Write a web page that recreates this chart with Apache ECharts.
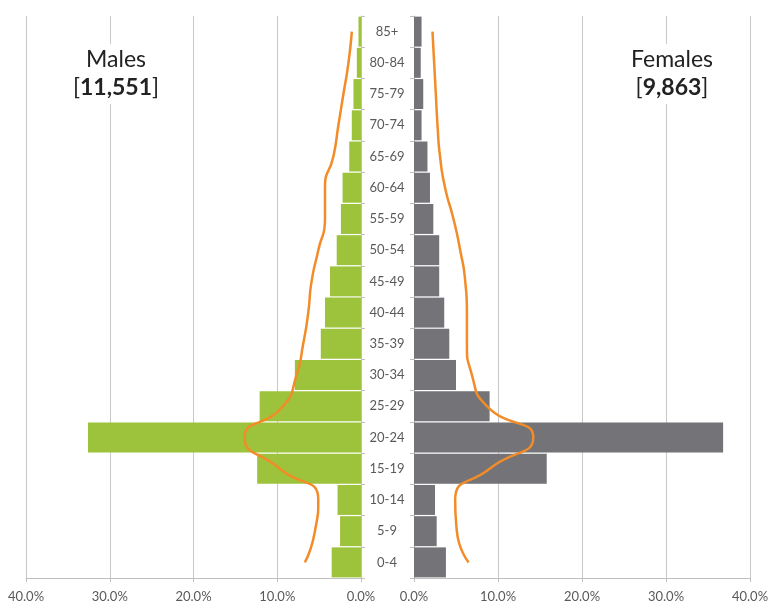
<!DOCTYPE html>
<html>
<head>
<meta charset="utf-8">
<script src="https://cdn.jsdelivr.net/npm/echarts@6/dist/echarts.min.js"></script>
<style>
  html, body { margin: 0; padding: 0; background: #fff; }
  #chart { width: 779px; height: 608px; }
</style>
</head>
<body>
<div id="chart"></div>
<script>
// age groups, bottom to top
const ages = ['0-4', '5-9', '10-14', '15-19', '20-24', '25-29', '30-34', '35-39', '40-44',
  '45-49', '50-54', '55-59', '60-64', '65-69', '70-74', '75-79', '80-84', '85+'];

// share of each sex (%), bars
const males = [3.5, 2.5, 2.8, 12.4, 32.6, 12.1, 7.9, 4.8, 4.3, 3.7, 2.9, 2.4, 2.2, 1.4, 1.1, 0.9, 0.5, 0.3];
const females = [3.8, 2.7, 2.5, 15.8, 36.8, 9.0, 5.0, 4.2, 3.6, 3.0, 3.0, 2.3, 1.9, 1.6, 0.9, 1.1, 0.8, 0.9];

// comparison curves (%)
const malesRef = [6.7, 5.5, 5.1, 9.7, 13.9, 9.3, 7.7, 6.9, 6.3, 5.9, 5.1, 4.3, 4.3, 3.3, 2.7, 2.1, 1.5, 1.1];
const femalesRef = [6.5, 5.1, 4.9, 9.0, 14.2, 8.7, 6.9, 6.3, 6.3, 6.1, 5.5, 4.7, 3.7, 3.1, 2.8, 2.6, 2.4, 2.2];

const totals = { males: '11,551', females: '9,863' };

const FONT = 'Lato';
const axisGray = '#bfbfbf';
const textGray = '#595959';

const chart = echarts.init(document.getElementById('chart'));

const valueAxis = (gridIndex, inverse) => ({
  type: 'value',
  gridIndex: gridIndex,
  inverse: inverse,
  min: 0,
  max: 40,
  interval: 10,
  axisLine: { show: true, lineStyle: { color: axisGray } },
  axisTick: { show: true, length: 4, lineStyle: { color: axisGray } },
  axisLabel: { color: textGray, fontFamily: FONT, fontSize: 13, margin: 12,
    formatter: v => v.toFixed(1) + '%' },
  splitLine: { show: true, lineStyle: { color: '#c8c8c8' } }
});

const titleStyle = {
  fontFamily: FONT, fontSize: 23, fontWeight: 'normal', color: '#222', lineHeight: 28,
  rich: { b: { fontFamily: FONT, fontSize: 23, fontWeight: 'bold', color: '#222', lineHeight: 28 } }
};

chart.setOption({
  animation: false,
  backgroundColor: '#fff',
  title: [
    { text: 'Males\n[{b|' + totals.males + '}]', left: 110, top: 44, textAlign: 'center',
      backgroundColor: '#fff', padding: [2, 6], textStyle: titleStyle },
    { text: 'Females\n[{b|' + totals.females + '}]', left: 666, top: 44, textAlign: 'center',
      backgroundColor: '#fff', padding: [2, 6], textStyle: titleStyle }
  ],
  grid: [
    { left: 26, right: 418, top: 16, bottom: 30 },
    { left: 414, right: 29, top: 16, bottom: 30 }
  ],
  xAxis: [valueAxis(0, true), valueAxis(1, false)],
  yAxis: [
    { type: 'category', gridIndex: 0, data: ages, position: 'right',
      axisLine: { show: true, lineStyle: { color: axisGray } },
      axisTick: { show: true, length: 4, lineStyle: { color: axisGray } },
      axisLabel: { color: textGray, fontFamily: FONT, fontSize: 13, align: 'center', margin: 26 } },
    { type: 'category', gridIndex: 1, data: ages, position: 'left',
      axisLine: { show: true, lineStyle: { color: axisGray } },
      axisTick: { show: true, length: 4, lineStyle: { color: axisGray } },
      axisLabel: { show: false } }
  ],
  series: [
    { name: 'Males', type: 'bar', xAxisIndex: 0, yAxisIndex: 0, data: males,
      barCategoryGap: '4%', itemStyle: { color: '#9cc33b' }, z: 2 },
    { name: 'Females', type: 'bar', xAxisIndex: 1, yAxisIndex: 1, data: females,
      barCategoryGap: '4%', itemStyle: { color: '#737378' }, z: 2 },
    { name: 'Males ref', type: 'line', xAxisIndex: 0, yAxisIndex: 0, data: malesRef,
      smooth: 0.6, showSymbol: false, lineStyle: { color: '#f28c28', width: 2.5 }, z: 3 },
    { name: 'Females ref', type: 'line', xAxisIndex: 1, yAxisIndex: 1, data: femalesRef,
      smooth: 0.6, showSymbol: false, lineStyle: { color: '#f28c28', width: 2.5 }, z: 3 }
  ]
});
</script>
</body>
</html>
